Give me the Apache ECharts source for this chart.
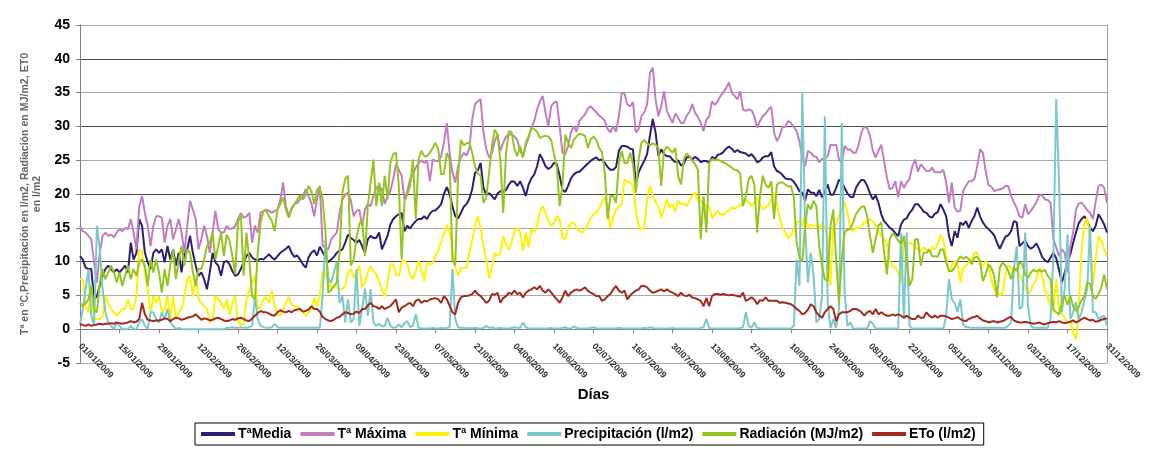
<!DOCTYPE html>
<html>
<head>
<meta charset="utf-8">
<script src="https://cdn.jsdelivr.net/npm/echarts@6/dist/echarts.min.js"></script>
<style>
html,body{margin:0;padding:0;background:#fff;}
#chart{width:1152px;height:450px;}
</style>
</head>
<body>
<div id="chart"></div>
<script>
// ---- Data (daily values, 365 days) ----
const seriesNames = ['TªMedia', 'Tª Máxima', 'Tª Mínima', 'Precipitación (l/m2)', 'Radiación (MJ/m2)', 'ETo (l/m2)'];
const yTickValues = [-5, 0, 5, 10, 15, 20, 25, 30, 35, 40, 45];
const startYear = 2009;

const tMedia = [
10.8,10.3,9.1,8.9,8.9,4.4,4.9,6.4,7.9,8.9, 9.4,8.9,8.4,8.9,8.4,8.9,9.4,8.4,12.8,10.3, 11.3,16.3,15.3,11.3,9.9,8.9,11.3,11.8,11.3,11.8, 9.9,12.3,10.3,11.8,9.4,11.3,8.4,11.3,11.8,13.8, 11.3,9.4,7.9,8.4,7.4,5.9,8.4,11.3,9.9,9.4, 7.9,9.9,
10.1,9.6,8.6,7.9,8.1,8.9,9.9,10.8,11.3,10.6, 10.3,10.2,10.4,10.3,10.7,11.1,10.6,10.3,10.8,11.3, 11.6,11.9,12.3,11.3,10.7,10.9,10.3,9.6,9.1,10.6, 11.3,11.7,10.9,12.2,11.4,10.7,9.9,10.3,10.7,11.3, 11.6,11.8,12.8,14.0,13.5,13.2,12.8,13.2,12.3,11.3, 13.3,13.8,
13.5,13.5,14.3,11.8,12.8,13.8,15.5,16.3,16.7,17.0, 17.2,14.5,15.3,14.9,15.5,16.0,16.3,16.3,16.7,16.3, 17.1,17.5,17.6,18.0,18.5,20.0,21.0,20.0,18.2,16.7, 16.4,17.2,18.1,18.5,19.3,20.7,23.1,23.5,24.6,20.9, 19.9,20.1,19.7,19.2,20.1,20.4,20.3,20.6,21.4,21.9, 21.8,21.2,
21.9,20.9,19.7,21.4,22.3,22.9,24.1,25.9,25.1,24.1, 23.7,24.0,24.6,24.4,22.7,20.6,20.3,21.2,22.3,22.9, 23.2,23.3,23.7,24.1,24.5,24.9,25.2,25.4,25.0,25.1, 24.6,24.0,23.6,23.6,24.0,26.4,27.1,27.1,27.0,26.7, 26.6,21.4,23.2,24.1,24.9,25.9,28.6,31.1,29.1,25.6, 26.6,25.9,
25.6,25.6,25.1,24.7,25.0,24.2,24.5,25.4,25.5,25.1, 25.5,25.2,24.7,24.9,24.9,24.6,25.5,25.2,25.8,25.9, 26.2,26.7,27.0,26.7,26.2,26.5,26.2,26.1,26.0,25.6, 25.9,25.4,24.7,24.9,25.4,25.6,25.6,26.2,24.1,23.4, 23.2,22.8,22.3,22.2,22.2,21.8,21.2,20.4,20.2,19.0, 20.7,20.2,
20.2,19.7,20.6,19.5,20.4,21.4,19.9,19.9,20.9,22.1, 21.8,20.9,20.1,19.6,19.5,20.9,21.6,22.1,22.0,21.2, 20.1,19.2,19.8,18.7,17.0,16.0,15.5,15.0,14.7,14.2, 13.8,15.5,16.2,16.4,17.2,17.7,18.5,18.5,18.0,17.4, 17.2,16.7,16.5,17.1,17.3,18.5,17.7,16.7,13.8,12.3, 14.5,13.5,
15.8,15.4,16.0,15.0,16.0,16.7,18.0,16.7,15.8,15.2, 14.8,14.4,13.9,12.8,11.9,12.8,13.7,13.9,14.5,16.0, 15.8,12.3,12.7,13.1,12.3,11.9,12.2,12.7,11.8,10.7, 10.2,9.9,10.6,11.3,10.5,8.8,6.9,8.4,9.9,11.1, 12.8,14.3,15.7,16.3,16.7,16.0,15.0,14.5,15.3,17.0, 16.3,15.5,14.3
];

const tMax = [
15.3,14.5,14.3,13.8,13.3,9.9,6.9,11.3,13.8,14.3, 13.8,14.0,13.6,14.3,14.8,14.5,15.0,14.8,16.3,14.3, 11.8,18.2,19.7,17.2,15.3,12.3,15.3,16.7,16.7,16.5, 12.8,15.3,16.3,13.3,14.8,16.3,14.3,11.3,15.3,19.0, 17.7,16.3,11.8,13.3,15.3,13.8,11.3,14.3,17.5,14.8, 14.3,14.3,
15.3,14.8,14.9,15.3,16.3,17.2,16.5,16.7,17.2,12.8, 15.3,14.3,17.2,17.5,17.7,17.5,17.2,17.5,17.7,19.2, 21.7,18.2,16.7,17.9,18.5,18.7,19.2,19.7,20.7,19.7, 18.7,16.7,19.2,21.2,12.3,12.1,11.8,13.3,13.8,14.3, 17.2,19.2,19.9,20.2,19.0,16.7,17.5,17.7,15.3,17.7, 18.5,18.2,
19.7,20.9,21.2,20.7,18.5,19.7,20.4,22.2,24.4,23.6, 22.7,19.2,20.4,22.2,22.9,23.9,24.6,25.0,24.6,24.9, 21.9,25.1,24.9,24.9,25.6,27.6,30.5,26.1,23.2,21.7, 24.1,25.4,26.1,25.7,26.8,31.0,33.3,33.7,34.0,29.1, 26.6,25.4,26.1,27.8,28.8,26.4,27.6,28.5,28.8,28.8, 28.5,28.0,
26.4,25.6,27.2,28.3,29.8,30.8,32.5,33.7,34.5,32.0, 30.0,33.0,33.5,33.7,30.0,26.1,25.9,27.1,29.1,30.0, 29.2,30.8,31.3,31.8,32.6,33.0,32.5,32.1,31.6,31.3, 30.8,29.6,29.1,30.0,29.2,31.5,34.9,34.9,33.2,33.0, 33.6,29.1,29.6,31.5,32.1,33.2,37.9,38.7,34.0,31.5, 33.0,35.2,
32.3,31.4,30.5,31.9,31.3,30.5,30.5,31.6,32.1,33.3, 32.0,31.4,30.5,29.3,31.0,31.5,33.7,33.2,33.7,34.5, 35.0,35.7,36.5,35.0,34.5,34.0,35.2,32.5,32.3,32.5, 32.4,31.5,29.8,30.8,31.5,31.9,32.5,32.9,29.1,27.8, 28.6,30.0,29.9,30.8,30.5,29.9,29.3,27.8,25.4,24.1, 26.4,26.1,
25.6,25.5,24.7,25.2,25.2,25.6,27.3,27.2,27.3,25.1, 24.6,27.1,26.6,26.6,26.1,26.1,27.3,29.2,30.0,29.7, 28.6,26.4,25.4,26.4,27.3,24.9,22.4,20.7,20.9,21.9, 19.5,21.9,20.9,21.7,22.2,24.1,25.1,23.3,24.4,23.9, 23.4,23.4,23.9,23.2,23.2,23.2,23.6,21.7,18.7,21.7, 18.0,17.4,
17.5,20.4,21.2,21.9,21.9,22.2,24.1,26.6,26.1,23.4, 21.3,21.1,20.4,20.6,20.7,20.8,21.2,21.2,19.7,18.8, 17.9,16.7,16.5,18.5,17.0,17.5,18.1,18.8,19.8,19.8, 19.2,19.1,18.7,13.3,12.1,10.8,11.8,11.3,8.4,12.3, 14.3,17.7,18.6,18.7,18.2,17.6,17.2,16.3,18.9,21.2, 21.4,20.9,18.7
];

const tMin = [
7.4,7.4,3.4,2.5,6.4,1.5,1.5,1.5,2.0,4.9, 3.9,3.0,2.5,2.0,2.5,3.0,3.0,4.4,3.0,3.0, 4.9,11.8,11.3,8.4,5.9,2.5,4.9,3.9,4.9,2.5, 3.0,4.9,1.5,4.9,1.5,2.5,3.0,4.9,7.4,7.9, 4.9,7.9,4.4,3.9,3.4,3.0,1.0,1.5,4.9,4.4, 3.9,3.0,
4.4,2.2,3.9,4.9,1.2,0.6,0.9,4.4,5.7,6.9, 7.9,3.0,3.4,4.4,4.7,3.9,5.7,3.4,2.2,2.0, 3.0,3.9,4.8,3.7,3.4,3.4,3.0,2.5,2.0,2.5, 3.0,4.7,3.4,4.9,8.6,8.1,7.4,5.9,6.2,6.4, 5.9,6.0,6.4,8.4,8.9,7.6,8.4,9.4,6.2,6.9, 8.4,9.3,
8.6,8.1,7.1,5.7,4.9,6.9,9.6,9.6,8.1,7.9, 9.9,10.2,9.6,8.1,7.4,8.6,10.1,8.6,7.1,9.9, 9.6,9.7,10.8,11.7,12.9,14.0,15.4,14.3,11.8,9.4, 7.9,9.1,9.1,9.1,11.3,13.1,15.3,16.7,15.0,12.3, 10.3,7.5,9.1,11.3,10.8,11.3,13.8,12.4,11.8,12.9, 14.5,15.0,
14.3,11.6,14.3,12.1,14.8,14.3,15.3,17.5,18.2,17.2, 16.0,15.3,15.7,16.7,16.3,13.5,13.3,15.0,15.7,15.8, 15.0,14.5,14.3,14.8,15.5,16.5,17.0,17.3,17.8,18.7, 19.5,18.0,15.0,16.7,17.7,18.1,18.5,22.2,21.8,21.7, 21.2,17.7,15.3,14.8,15.0,19.2,21.2,19.7,18.8,18.3, 16.5,17.7,
19.2,18.0,18.5,17.4,19.0,18.5,18.6,18.2,19.0,19.7, 20.2,19.0,19.1,18.5,18.2,18.1,16.4,17.0,17.5,17.0, 16.9,17.3,17.6,18.0,17.8,18.1,18.3,18.7,19.1,18.8, 18.2,18.7,19.5,18.5,17.8,18.0,18.3,19.2,20.2,18.5, 16.4,15.0,14.3,13.4,13.9,14.8,15.7,16.0,15.3,17.0, 15.0,15.5,
15.3,15.3,14.9,15.7,15.0,13.8,6.4,15.5,15.5,16.7, 17.7,18.9,17.2,15.0,14.5,15.0,14.9,15.3,15.7,16.0, 16.3,15.9,15.3,14.5,13.9,13.4,12.6,10.1,9.4,9.1, 8.4,6.9,13.1,12.6,12.8,12.6,12.2,11.8,11.6,12.1, 11.8,11.6,12.1,11.8,12.6,14.0,13.1,10.8,8.4,9.4, 10.1,9.9,
6.9,9.1,9.4,9.9,10.3,11.3,11.3,9.4,9.4,10.1, 9.6,7.4,5.9,5.3,5.0,5.4,8.1,9.4,9.1,8.4, 9.1,8.1,7.1,6.4,5.2,5.7,6.7,7.4,9.1,7.9, 5.9,4.7,3.4,2.5,7.4,3.0,2.2,1.7,1.0,1.2, -0.5,-1.5,3.0,11.8,15.8,16.5,12.8,6.4,10.3,13.8, 13.1,11.8,10.8
];

const precipitacion = [
0.7,3.0,6.0,8.9,2.0,0.5,15.3,12.0,6.0,2.5, 1.0,0.5,0,1.0,0.5,0,0,0,0.5,0, 0,1.0,1.5,0.5,0,2.5,2.5,1.5,1.0,2.5, 1.5,3.0,1.0,0.5,0,0.2,0,0,0,0, 0,0,0,0,0,0,0,0,0,0, 0,0,
0.2,0.2,0.3,0.2,0.2,0.3,0.2,0.2,0.3,0.5, 4.9,1.5,0.5,0.3,0.2,0.2,0.3,0.8,0.3,0.2, 0.2,0.2,0.2,0.2,0.2,0.2,0.2,0.2,0.2,0.2, 0.2,0.2,0.2,0.2,5.0,13.3,7.4,6.9,8.4,9.9, 3.9,4.9,1.0,4.4,1.0,1.5,8.9,0.5,3.0,6.0, 2.0,5.9,
1.0,0.5,0.8,0.4,0.5,1.7,0.5,0.2,0.3,0.7, 0.3,0.9,1.2,0.3,0.5,2.2,0.2,0.1,0.1,0.1, 0.1,0.2,0.1,0.1,0.2,0.1,0.2,0.3,8.9,1.5, 0.3,0.2,0.2,0.1,0.2,0.1,0.2,0.1,0.1,0.2, 0.5,0.2,0.3,0.1,0.1,0.2,0.1,0.1,0.1,0.2, 0.3,0.2,
0.2,1.0,0.3,0.1,0.1,0.1,0.1,0.1,0.1,0.1, 0.1,0.2,0.1,0.1,0.1,0.2,0.3,0.1,0.1,0.4, 0.2,0.1,0.1,0.1,0.1,0.2,0.3,0.1,0.1,0.1, 0.1,0.1,0.1,0.1,0.1,0.2,0.1,0.1,0.1,0.1, 0.1,0.1,0.1,0.1,0.2,0.1,0.3,0.2,0.1,0.1, 0.1,0.1,
0.1,0.1,0.2,0.1,0.1,0.1,0.1,0.1,0.1,0.1, 0.1,0.1,0.2,0.3,1.5,0.2,0.1,0.1,0.1,0.1, 0.1,0.1,0.1,0.1,0.1,0.1,0.2,0.3,2.5,0.5, 0.2,1.0,0.2,0.1,0.1,0.1,0.1,0.1,0.1,0.1, 0.1,0.1,0.1,0.1,0.1,0.5,10.3,6.4,35.0,15.3, 6.9,11.3,
8.0,1.0,1.5,4.9,31.5,4.0,0.2,1.5,0.2,3.0, 30.5,5.4,0.5,1.0,0.1,0.1,0.1,0.1,0.1,0.1, 1.2,0.8,0.1,0.1,0.1,0.1,0.1,0.1,0.1,0.1, 0.1,14.3,1.5,14.3,0.5,0.1,0.1,0.1,0.1,0.1, 0.1,0.1,0.1,0.1,0.1,0.1,0.1,2.0,7.4,4.4, 3.9,2.5,
4.4,0.7,0.3,0.3,0.2,0.2,0.2,0.2,0.2,0.2, 0.2,0.2,0.2,0.2,0.2,0.2,0.2,0.5,1.0,9.0, 12.3,3.0,3.4,14.3,3.4,0.5,0.2,0.2,0.2,0.2, 0.2,0.2,1.5,11.0,34.0,22.0,2.5,6.0,14.0,1.5, 2.5,4.0,1.5,2.5,4.4,6.0,15.3,2.5,2.5,1.5, 1.8,2.0,0.5
];

const radiacion = [
3.9,3.4,3.9,4.4,6.4,3.0,2.5,6.9,8.9,7.4, 8.4,9.4,8.4,6.9,8.4,6.4,7.9,9.4,7.4,8.9, 7.9,9.9,10.3,9.4,6.4,10.3,8.4,10.3,8.4,5.4, 8.9,6.4,9.4,11.8,7.4,10.3,12.3,9.4,11.8,11.3, 8.4,6.4,8.9,8.9,10.3,12.3,12.8,14.3,10.3,12.3, 14.3,10.8,
14.0,13.1,10.8,8.1,15.8,17.0,7.9,14.3,10.3,4.9, 4.4,11.3,15.8,17.5,17.5,16.7,16.0,14.5,17.7,18.5, 19.5,17.7,16.5,17.7,18.5,19.2,19.8,19.2,19.9,21.2, 20.4,18.5,20.7,20.9,19.2,14.3,5.4,5.8,6.4,6.9, 11.3,20.2,22.2,22.7,9.4,10.3,13.5,15.5,16.3,10.8, 18.2,21.7,
25.1,18.2,21.7,18.2,22.7,19.2,24.6,25.9,26.1,21.2, 10.3,18.9,19.9,21.2,25.1,16.3,25.1,26.4,25.6,25.6, 26.1,26.8,27.6,26.6,22.9,23.0,26.1,25.1,10.3,9.4, 22.7,28.0,27.2,27.5,27.6,26.1,24.1,23.0,22.7,18.7, 19.5,23.2,27.1,29.5,28.8,24.9,17.2,26.1,29.3,29.1, 26.6,25.6,
27.1,25.4,27.6,28.5,29.8,29.6,29.2,28.3,28.5,28.6, 28.5,28.0,25.9,23.9,18.2,21.2,28.8,27.6,26.8,28.0, 28.5,28.9,28.8,28.6,26.8,28.1,28.5,28.0,26.8,26.2, 23.2,16.3,19.7,19.7,18.7,24.6,26.4,24.6,24.6,26.1, 24.4,20.2,25.1,27.6,28.0,27.5,27.2,27.5,27.3,26.8, 21.2,26.4,
27.0,26.6,26.1,26.8,22.7,21.4,25.1,26.0,25.6,24.9, 24.4,23.6,13.3,19.7,14.3,24.6,25.2,25.0,25.1,24.9, 24.7,24.5,24.2,23.9,23.6,23.5,23.0,18.2,19.7,22.2, 22.7,21.4,14.3,19.7,22.7,21.4,20.9,21.9,16.3,21.4, 21.7,21.7,21.4,21.1,21.2,19.5,12.8,10.6,10.0,15.3, 18.5,17.7,
19.0,18.2,12.3,9.4,7.4,7.1,15.3,17.7,10.3,3.9, 10.3,14.3,14.7,14.8,15.8,17.0,17.6,18.1,18.2,16.7, 13.8,11.3,13.3,15.3,15.8,11.3,8.1,13.3,14.2,13.8, 13.1,12.6,13.8,10.3,6.4,7.4,13.3,13.3,9.4,11.3, 11.3,11.8,10.8,10.8,10.7,11.8,11.8,9.9,8.6,8.6, 9.1,10.1,
10.8,10.4,10.7,10.4,9.6,10.6,10.7,10.1,7.1,8.1, 9.6,9.1,7.9,4.7,9.1,9.9,9.4,8.6,7.4,9.1, 8.6,9.9,9.6,8.1,7.6,8.4,8.8,8.5,8.8,8.5, 8.8,7.9,7.4,3.0,2.5,2.2,3.9,4.9,3.6,4.9, 3.4,2.7,3.4,4.3,4.8,6.9,6.7,4.9,4.5,5.2, 6.2,8.1,5.9
];

const eto = [
0.8,0.6,0.5,0.7,0.5,0.6,0.7,0.8,0.7,0.8, 0.8,0.9,0.8,1.0,0.9,0.8,0.9,1.0,1.2,1.0, 1.1,1.5,3.9,2.2,1.4,1.3,1.2,1.3,1.3,1.4, 1.6,1.5,1.2,1.5,1.7,1.6,1.4,1.5,1.7,1.8, 1.9,2.2,1.8,1.4,1.6,1.5,1.3,1.4,1.6,1.7, 1.5,1.3,
1.2,1.3,1.5,1.4,1.6,1.7,1.5,1.3,1.2,1.6, 2.0,2.4,2.7,2.5,2.5,2.3,2.1,2.0,2.5,2.8, 2.6,2.5,2.7,2.5,2.8,2.9,3.0,2.6,2.7,2.9, 3.4,3.0,3.0,2.6,1.8,1.5,1.3,1.2,1.4,1.7, 1.8,2.2,2.5,2.4,2.2,2.3,2.6,2.4,3.0,3.0, 3.5,3.9,
3.4,3.3,3.0,3.4,3.0,3.2,3.4,3.9,4.4,2.5, 3.2,3.4,3.7,3.9,3.4,4.2,4.4,3.9,4.2,4.1, 4.4,4.5,4.6,4.4,3.9,4.9,4.4,3.5,2.5,2.2, 3.9,4.7,4.9,4.9,5.0,5.2,5.7,5.2,4.9,4.4, 3.9,4.2,5.2,5.1,5.4,3.9,4.6,4.9,5.4,5.2, 5.7,5.2,
5.4,4.7,5.4,5.7,5.9,6.2,5.9,6.4,5.7,5.4, 5.9,5.4,4.9,4.4,3.9,4.7,5.7,4.9,5.4,5.7, 5.9,5.7,5.9,6.2,5.7,5.4,5.2,4.9,4.9,4.2, 4.4,4.9,5.2,5.9,6.4,5.7,5.4,5.7,4.4,5.0, 5.4,5.7,5.9,6.4,6.4,6.2,5.7,5.4,5.5,5.7, 5.9,5.6,
5.9,5.6,5.4,5.2,4.9,5.4,5.0,4.9,5.1,4.7, 4.6,4.4,4.2,3.4,4.6,3.4,4.9,5.2,5.2,5.1, 5.2,5.1,5.0,5.1,5.0,4.9,4.8,5.4,4.2,4.4, 4.7,4.4,3.7,4.3,4.2,4.7,4.2,4.2,4.2,4.2, 3.9,4.0,3.9,3.8,3.7,3.4,3.0,2.7,2.2,2.4, 2.9,3.7,
3.4,2.5,2.0,1.7,2.5,3.0,3.4,3.0,1.2,2.2, 2.5,2.5,2.5,2.7,3.0,3.0,2.8,2.5,2.0,2.5, 2.7,2.2,3.0,2.2,2.5,2.2,2.0,2.0,2.2,2.0, 2.2,2.0,1.7,2.0,1.7,1.5,1.5,2.0,1.7,1.7, 2.5,2.0,1.7,2.0,1.7,2.0,2.0,1.9,1.7,1.5, 1.6,1.8,
1.5,1.3,1.2,1.5,1.7,1.8,2.0,1.6,1.3,1.2, 1.0,1.1,1.2,1.0,1.1,1.2,1.4,1.7,1.8,1.3, 1.1,1.0,1.0,1.1,1.0,0.9,0.8,0.9,1.0,0.8, 0.7,0.9,1.0,1.1,1.0,1.2,1.0,0.9,1.0,1.1, 1.3,1.0,1.2,1.5,1.7,1.5,1.3,1.4,1.1,1.2, 1.4,1.5,1.6
];

const seriesColors = ['#2E1E72', '#C07EC0', '#FFF200', '#7CC7CA', '#94C51E', '#A2291D'];

// Categories: each day of the year, dd/mm/yyyy
const categories = [];
for (let i = 0; i < tMedia.length; i++) {
  const d = new Date(Date.UTC(startYear, 0, 1 + i));
  const dd = String(d.getUTCDate()).padStart(2, '0');
  const mm = String(d.getUTCMonth() + 1).padStart(2, '0');
  categories.push(dd + '/' + mm + '/' + d.getUTCFullYear());
}

const allData = [tMedia, tMax, tMin, precipitacion, radiacion, eto];

const chart = echarts.init(document.getElementById('chart'), null, {renderer: 'canvas'});
const sans = "'Liberation Sans',Arial,sans-serif";
chart.setOption({
  animation: false,
  backgroundColor: '#ffffff',
  grid: {left: 80, right: 45, top: 25, bottom: 87, containLabel: false},
  xAxis: [{
    type: 'category',
    data: categories,
    boundaryGap: false,
    axisLine: {show: false, onZero: false},
    axisTick: {show: false},
    axisLabel: {
      interval: 13, rotate: -45, fontSize: 9, fontWeight: 'bold', color: '#333',
      fontFamily: sans, margin: -18
    },
    splitLine: {show: false},
    name: 'Días',
    nameLocation: 'middle',
    nameGap: 23,
    nameTextStyle: {fontSize: 15, fontWeight: 'bold', color: '#000', fontFamily: sans}
  }, {
    type: 'category',
    data: categories,
    boundaryGap: false,
    position: 'bottom',
    axisLine: {show: true, onZero: true, lineStyle: {color: '#808080', width: 1}},
    axisTick: {show: true, interval: 13, length: 4, lineStyle: {color: '#808080'}},
    axisLabel: {show: false},
    splitLine: {show: false}
  }],
  yAxis: [{
    type: 'value',
    min: yTickValues[0],
    max: yTickValues[yTickValues.length - 1],
    interval: 5,
    axisLine: {show: true, lineStyle: {color: '#808080'}},
    axisTick: {show: true, length: 4, lineStyle: {color: '#808080'}},
    axisLabel: {fontSize: 14, fontWeight: 'bold', color: '#000', margin: 10, fontFamily: sans},
    splitLine: {show: true, lineStyle: {color: ['#a8a8a8', '#4a4a4a'], width: 1}},
    name: 'Tª en ºC,Precipitación en l/m2, Radiación en MJ/m2, ET0\nen l/m2',
    nameLocation: 'middle',
    nameRotate: 90,
    nameGap: 33,
    nameTextStyle: {fontSize: 10.6, fontWeight: 'bold', color: '#666', lineHeight: 12, fontFamily: sans}
  }, {
    type: 'value',
    position: 'right',
    min: yTickValues[0],
    max: yTickValues[yTickValues.length - 1],
    interval: 5,
    axisLine: {show: true, lineStyle: {color: '#a0a0a0'}},
    axisTick: {show: false},
    axisLabel: {show: false},
    splitLine: {show: false}
  }],
  legend: {
    data: seriesNames,
    left: 195,
    top: 423,
    padding: [4, 8, 4, 6],
    borderColor: '#000',
    borderWidth: 1,
    itemGap: 9,
    itemWidth: 34,
    itemHeight: 4,
    icon: 'rect',
    textStyle: {fontSize: 14, fontWeight: 'bold', color: '#000', fontFamily: sans, padding: [0, 0, 0, -2]}
  },
  series: seriesNames.map((name, k) => ({
    name: name,
    type: 'line',
    data: allData[k],
    showSymbol: false,
    symbol: 'none',
    lineStyle: {width: 2, color: seriesColors[k]},
    itemStyle: {color: seriesColors[k]},
    z: 2 + k
  }))
});
allData.forEach((a, k) => { if (a.length !== 365) console.error(seriesNames[k] + ' length ' + a.length); });
</script>
</body>
</html>
